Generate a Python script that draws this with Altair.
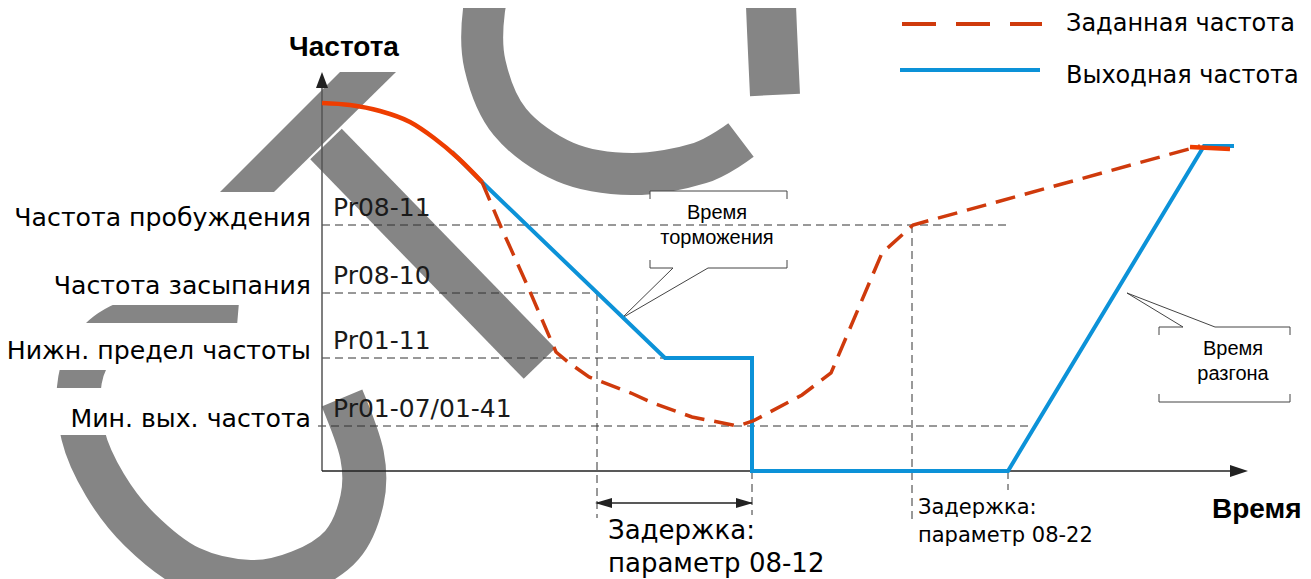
import altair as alt
import pandas as pd

# ---------------- data (time units t, frequency units f) ----------------
level_names = ["Частота пробуждения", "Частота засыпания", "Нижн. предел частоты", "Мин. вых. частота"]
level_params = ["Pr08-11", "Pr08-10", "Pr01-11", "Pr01-07/01-41"]
level_f = [24.6, 17.8, 11.3, 4.5]
level_t_start = [0.0, 0.0, 0.0, -0.4]
level_t_end = [68.5, 27.5, 34.3, 70.9]

# output frequency (blue)
out_t = [13.0, 16.0, 34.3, 43.0, 43.0, 68.6, 88.2, 91.2]
out_f = [31.9, 28.9, 11.3, 11.3, 0.0, 0.0, 32.5, 32.5]

# set frequency (red dashed)
set_t = [16.0, 17.9, 20.6, 23.4, 24.6, 26.7, 30.9, 33.1, 37.0, 41.6, 43.1, 48.0, 50.9, 56.0, 59.1, 87.8]
set_f = [28.9, 24.4, 18.4, 11.9, 10.9, 9.4, 7.8, 6.8, 5.4, 4.5, 5.0, 7.6, 9.8, 21.8, 24.6, 32.5]

# common part (set = output), solid red
common_t = [0.0, 2.8, 5.8, 8.8, 11.2, 13.6, 16.0]
common_f = [36.8, 36.6, 36.0, 34.9, 33.3, 31.3, 28.9]
final_t = [86.8, 90.8]
final_f = [32.4, 32.2]

# vertical markers
marker_t = [27.5, 43.0, 59.0, 68.6]
marker_top = [17.8, 0.0, 24.6, 0.0]
marker_bottom = [-4.7, -4.4, -4.8, -1.9]

delay_t1, delay_t2, delay_f = 27.5, 43.0, -3.2
T_AXIS_END, F_AXIS_END = 92.6, 39.9

# watermark strokes
wm_arm_f = [27.9, 39.9]
wm_arm_left = [-10.2, 1.8]
wm_arm_right = [-4.8, 7.4]
wm_bar_t = [0.4, 21.75]
wm_bar_f = [32.7, 10.75]
wm_ringA_t = [41.9, 37.8, 31.0, 24.3, 18.8, 16.3, 16.2, 17.5]
wm_ringA_f = [33.1, 30.8, 29.7, 30.9, 34.9, 40.6, 46.1, 50.1]
wm_ringB_t = [44.8, 45.0, 45.3]
wm_ringB_f = [49.1, 44.1, 37.6]
wm_c_t = [2.0, 4.0, 4.0, 2.0, -2.2, -7.2, -13.2, -18.2, -21.7, -23.9, -24.2, -22.2, -18.2, -13.2, -8.4]
wm_c_f = [7.3, 1.6, -2.9, -7.4, -10.1, -11.1, -9.7, -5.9, -1.4, 3.6, 9.1, 13.1, 15.3, 15.9, 15.7]

# ---------------- scales ----------------
W, H = 1295, 571
T_MIN = -31.4
T_MAX = T_MIN + W / 10.0
F_MAX = 46.3
F_MIN = F_MAX - H / 10.0
xs = alt.Scale(domain=[T_MIN, T_MAX], nice=False, zero=False)
ys = alt.Scale(domain=[F_MIN, F_MAX], nice=False, zero=False)


def X(f):
    return alt.X(f, type="quantitative", scale=xs, axis=None)


def Y(f):
    return alt.Y(f, type="quantitative", scale=ys, axis=None)


FONT = "DejaVu Sans"
FONT2 = "Liberation Sans"
WM = "#858585"
BLUE = "#0C92D8"
RED_D = "#CF3A0C"
RED_S = "#EE3D00"

layers = []

# ---------------- watermark ----------------
arm = pd.DataFrame({"f": wm_arm_f, "xl": wm_arm_left, "xr": wm_arm_right})
layers.append(alt.Chart(arm).mark_area(orient="horizontal", color=WM, opacity=1).encode(
    y=Y("f"), x=X("xl"), x2=alt.X2("xr")))


def stroke(ts, fs, width, interp="linear"):
    df = pd.DataFrame({"i": list(range(len(ts))), "t": ts, "f": fs})
    return alt.Chart(df).mark_line(color=WM, strokeWidth=width, strokeCap="butt",
                                   interpolate=interp, opacity=1).encode(
        x=X("t"), y=Y("f"), order=alt.Order("i:Q"))


layers.append(stroke(wm_bar_t, wm_bar_f, 44))
layers.append(stroke(wm_ringA_t, wm_ringA_f, 42, "cardinal"))
layers.append(stroke(wm_ringB_t, wm_ringB_f, 50, "cardinal"))
layers.append(stroke(wm_c_t, wm_c_f, 44, "cardinal"))

# ---------------- white masks (label boxes) ----------------
masks = pd.DataFrame({
    "t1": [T_MIN] * 4 + [32.8, 83.7],
    "t2": [-0.8] * 4 + [46.5, 96.8],
    "f1": [23.2, 16.6, 10.1, 3.6, 20.3, 6.9],
    "f2": [27.9, 21.3, 14.8, 8.3, 28.0, 14.4],
})
layers.append(alt.Chart(masks).mark_rect(color="white").encode(
    x=X("t1"), x2=alt.X2("t2"), y=Y("f1"), y2=alt.Y2("f2")))

# ---------------- dashed reference lines ----------------
hl = pd.DataFrame({"t1": level_t_start, "t2": level_t_end, "f": level_f})
layers.append(alt.Chart(hl).mark_rule(color="#333", strokeWidth=1, strokeDash=[8, 5]).encode(
    x=X("t1"), x2=alt.X2("t2"), y=Y("f")))
vl = pd.DataFrame({"t": marker_t, "f1": marker_top, "f2": marker_bottom})
layers.append(alt.Chart(vl).mark_rule(color="#333", strokeWidth=1, strokeDash=[8, 5]).encode(
    x=X("t"), y=Y("f1"), y2=alt.Y2("f2")))

# ---------------- axes ----------------
yax = pd.DataFrame({"t": [0.0], "f1": [0.0], "f2": [F_AXIS_END - 1.0]})
layers.append(alt.Chart(yax).mark_rule(color="#555", strokeWidth=1.5).encode(
    x=X("t"), y=Y("f1"), y2=alt.Y2("f2")))
xax = pd.DataFrame({"t1": [0.0], "t2": [T_AXIS_END - 1.0], "f": [0.0]})
layers.append(alt.Chart(xax).mark_rule(color="#222", strokeWidth=1.5).encode(
    x=X("t1"), x2=alt.X2("t2"), y=Y("f")))

# delay double arrow shaft
dl = pd.DataFrame({"t1": [delay_t1], "t2": [delay_t2], "f": [delay_f]})
layers.append(alt.Chart(dl).mark_rule(color="#222", strokeWidth=1.5).encode(
    x=X("t1"), x2=alt.X2("t2"), y=Y("f")))


# arrowheads
def head(t, f, path, size):
    df = pd.DataFrame({"t": [t], "f": [f]})
    return alt.Chart(df).mark_point(shape=path, size=size, filled=True, color="#222",
                                    opacity=1, strokeWidth=0).encode(x=X("t"), y=Y("f"))


layers.append(head(0.0, F_AXIS_END - 0.8, "M0,-1L0.75,1L-0.75,1Z", 256))
layers.append(head(T_AXIS_END - 0.9, 0.0, "M1,0L-1,-0.667L-1,0.667Z", 324))
layers.append(head(delay_t1 - 0.2 + 0.85, delay_f, "M-1,0L1,-0.6L1,0.6Z", 289))
layers.append(head(delay_t2 + 0.1 - 0.85, delay_f, "M1,0L-1,-0.6L-1,0.6Z", 289))

# ---------------- callout outlines ----------------
co = pd.DataFrame({
    "t1": [32.8, 32.8, 46.5, 32.8, 38.6, 32.8, 46.5, 35.1, 38.6,
           83.7, 89.3, 83.7, 96.8, 83.7, 83.7, 96.8, 86.1, 89.3],
    "t2": [46.5, 32.8, 46.5, 35.1, 46.5, 32.8, 46.5, 30.0, 30.0,
           86.1, 96.8, 83.7, 96.8, 96.8, 83.7, 96.8, 80.5, 80.5],
    "f1": [28.0, 28.0, 28.0, 20.3, 20.3, 20.3, 20.3, 20.3, 20.3,
           14.4, 14.4, 14.4, 14.4, 6.9, 6.9, 6.9, 14.4, 14.4],
    "f2": [28.0, 27.2, 27.2, 20.3, 20.3, 21.1, 21.1, 15.3, 15.3,
           14.4, 14.4, 13.6, 13.6, 6.9, 7.7, 7.7, 17.8, 17.8],
})
layers.append(alt.Chart(co).mark_rule(color="#444", strokeWidth=1).encode(
    x=X("t1"), x2=alt.X2("t2"), y=Y("f1"), y2=alt.Y2("f2")))


# ---------------- curves ----------------
def series(ts, fs):
    return pd.DataFrame({"i": list(range(len(ts))), "t": ts, "f": fs})


layers.append(alt.Chart(series(out_t, out_f)).mark_line(color=BLUE, strokeWidth=4, strokeJoin="miter").encode(
    x=X("t"), y=Y("f"), order=alt.Order("i:Q")))
layers.append(alt.Chart(series(set_t, set_f)).mark_line(color=RED_D, strokeWidth=3.5, strokeDash=[20, 10]).encode(
    x=X("t"), y=Y("f"), order=alt.Order("i:Q")))
layers.append(alt.Chart(series(common_t, common_f)).mark_line(color=RED_S, strokeWidth=4.5, interpolate="monotone").encode(
    x=X("t"), y=Y("f"), order=alt.Order("i:Q")))
layers.append(alt.Chart(series(final_t, final_f)).mark_line(color=RED_S, strokeWidth=4.5).encode(
    x=X("t"), y=Y("f"), order=alt.Order("i:Q")))

# ---------------- legend ----------------
lg_red = pd.DataFrame({"t1": [58.0], "t2": [72.0], "f": [44.7]})
layers.append(alt.Chart(lg_red).mark_rule(color=RED_D, strokeWidth=4, strokeDash=[34, 20]).encode(
    x=X("t1"), x2=alt.X2("t2"), y=Y("f")))
lg_blue = pd.DataFrame({"t1": [57.8], "t2": [71.8], "f": [40.1]})
layers.append(alt.Chart(lg_blue).mark_rule(color=BLUE, strokeWidth=4).encode(
    x=X("t1"), x2=alt.X2("t2"), y=Y("f")))


# ---------------- texts ----------------
def texts(ts, fs, labels, size, align="left", weight="normal", color="#000", dx=0, dy=0, font=FONT):
    df = pd.DataFrame({"t": ts, "f": fs, "label": labels})
    return alt.Chart(df).mark_text(font=font, fontSize=size, align=align, baseline="alphabetic",
                                   fontWeight=weight, color=color, dx=dx, dy=dy).encode(
        x=X("t"), y=Y("f"), text="label:N")


layers.append(texts([-1.1] * 4, level_f, level_names, 25.2, align="right", dy=1))
layers.append(texts([1.1] * 4, level_f, level_params, 25, color="#1a1a1a", dy=-9))
layers.append(texts([2.2], [41.5], ["Частота"], 28, align="center", weight="bold", font=FONT2))
layers.append(texts([89.0], [-4.7], ["Время"], 28, weight="bold", font=FONT2))
layers.append(texts([74.4, 74.4], [44.0, 38.8], ["Заданная частота", "Выходная частота"], 24))
layers.append(texts([39.5, 39.5], [25.2, 22.7], ["Время", "торможения"], 20, align="center", font=FONT2))
layers.append(texts([91.1, 91.1], [11.6, 9.1], ["Время", "разгона"], 20, align="center", font=FONT2))
layers.append(texts([28.6, 28.6], [-6.8, -10.1], ["Задержка:", "параметр 08-12"], 26))
layers.append(texts([59.6, 59.6], [-4.3, -7.1], ["Задержка:", "параметр 08-22"], 21))

chart = alt.layer(*layers).properties(
    width=W, height=H, padding=0, autosize="none"
).configure_view(stroke=None)

chart.save("out.html", embed_options={"renderer": "svg", "actions": False})
